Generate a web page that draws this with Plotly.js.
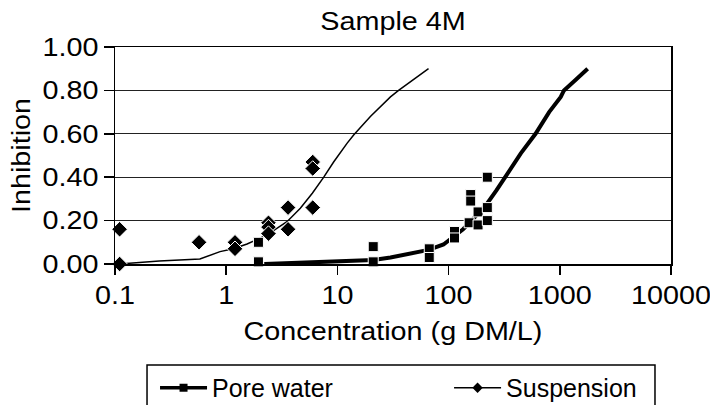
<!DOCTYPE html>
<html>
<head>
<meta charset="utf-8">
<script src="https://cdn.plot.ly/plotly-3.0.1.min.js"></script>
<style>html,body{margin:0;padding:0;background:#fff;}#chart{width:710px;height:405px;}</style>
</head>
<body>
<div id="chart"></div>
<script>
// Measured data points
var poreX = [1.95, 1.95, 21, 21, 67, 67, 113, 113, 153, 158, 158, 184, 184, 223, 223, 223];
var poreY = [0.10, 0.01, 0.08, 0.01, 0.07, 0.03, 0.15, 0.12, 0.19, 0.32, 0.29, 0.24, 0.18, 0.40, 0.26, 0.20];
var susX = [0.11, 0.11, 0.57, 1.2, 1.2, 2.4, 2.4, 2.4, 3.6, 3.6, 6.0, 6.0, 6.0];
var susY = [0.16, 0.00, 0.10, 0.10, 0.07, 0.19, 0.17, 0.14, 0.26, 0.16, 0.47, 0.44, 0.26];
// Fitted curves
var poreLineX = [2.2, 21, 30, 45, 66, 90, 111, 135, 158, 190, 223, 270, 335, 446, 605, 802, 1020, 1090, 1400, 1780];
var poreLineY = [0.00, 0.018, 0.03, 0.05, 0.065, 0.09, 0.126, 0.16, 0.195, 0.24, 0.28, 0.34, 0.41, 0.51, 0.60, 0.70, 0.77, 0.80, 0.85, 0.90];
var susLineX = [0.11, 0.25, 0.58, 0.88, 1.16, 1.54, 2.33, 3.52, 4.64, 5.95, 7.54, 9.25, 12.2, 14, 19.8, 30, 35.5, 45.5, 66];
var susLineY = [0.00, 0.014, 0.023, 0.057, 0.07, 0.092, 0.134, 0.195, 0.257, 0.326, 0.40, 0.47, 0.556, 0.594, 0.68, 0.77, 0.80, 0.84, 0.90];
// Axis ticks
var xTickVals = [0.1, 1, 10, 100, 1000, 10000];
var xTickText = ['0.1', '1', '10', '100', '1000', '10000'];
var yTickVals = [0, 0.2, 0.4, 0.6, 0.8, 1.0];
var yTickText = ['0.00', '0.20', '0.40', '0.60', '0.80', '1.00'];
var seriesNames = ['Pore water', 'Suspension'];

var FONT = 'Liberation Sans, Arial, Helvetica, sans-serif';
var FS = 25;
var NB = '\u00a0';
function pad(s, n) { var r = s; for (var i = 0; i < n; i++) r += NB; return r; }

var traces = [
  {x: poreLineX, y: poreLineY, mode: 'lines', line: {color: '#000', width: 4}, showlegend: false, cliponaxis: false, hoverinfo: 'skip'},
  {x: susLineX, y: susLineY, mode: 'lines', line: {color: '#000', width: 1.5}, showlegend: false, cliponaxis: false, hoverinfo: 'skip'},
  {x: poreX, y: poreY, mode: 'markers', marker: {symbol: 'square', size: 10, color: '#000', line: {color: '#fff', width: 1}}, showlegend: false, cliponaxis: false},
  {x: susX, y: susY, mode: 'markers', marker: {symbol: 'diamond', size: 12, color: '#000', line: {color: '#fff', width: 1}}, showlegend: false, cliponaxis: false},
  {x: [null], y: [null], name: pad(seriesNames[0], 16), mode: 'lines+markers', line: {color: '#000', width: 3.5}, marker: {symbol: 'square', size: 8, color: '#000'}},
  {x: [null], y: [null], name: seriesNames[1], mode: 'lines+markers', line: {color: '#000', width: 1.5}, marker: {symbol: 'diamond', size: 8, color: '#000'}}
];

var layout = {
  width: 710, height: 405,
  margin: {l: 115, r: 39, t: 47, b: 141, autoexpand: false},
  paper_bgcolor: '#fff', plot_bgcolor: '#fff',
  font: {family: FONT, color: '#000', size: FS},
  title: {text: 'Sample 4M', font: {family: FONT, size: FS, color: '#000'}, x: 0.5535, xanchor: 'center', y: 0.948, yanchor: 'middle'},
  xaxis: {
    type: 'log', range: [-1, 4],
    tickvals: xTickVals, ticktext: xTickText,
    ticks: 'outside', ticklen: 9, tickwidth: 1.5, tickcolor: '#000',
    showline: true, linecolor: '#000', linewidth: 1.5, mirror: true,
    showgrid: false, zeroline: false,
    tickfont: {family: FONT, size: FS, color: '#000'},
    title: {text: 'Concentration (g DM/L)', font: {family: FONT, size: FS, color: '#000'}, standoff: 14}
  },
  yaxis: {
    range: [0, 1],
    tickvals: yTickVals, ticktext: yTickText,
    ticks: 'outside', ticklen: 10, tickwidth: 1.5, tickcolor: '#000',
    showline: true, linecolor: '#000', linewidth: 1.5, mirror: true,
    showgrid: true, gridcolor: '#222', gridwidth: 1, zeroline: false,
    tickfont: {family: FONT, size: FS, color: '#000'},
    title: {text: 'Inhibition', font: {family: FONT, size: FS, color: '#000'}, standoff: 12}
  },
  legend: {
    orientation: 'h', x: 0.072, xanchor: 'left', y: -0.4654, yanchor: 'top',
    borderwidth: 0, bgcolor: 'rgba(0,0,0,0)',
    font: {family: FONT, size: FS, color: '#000'},
    itemwidth: 47
  },
  // legend frame (runs off the bottom edge as in the reference)
  shapes: [
    {type: 'rect', xref: 'paper', yref: 'paper', x0: 0.0576, x1: 0.9712, y0: -0.4654, y1: -0.70,
     line: {color: '#000', width: 1.5}, fillcolor: 'rgba(0,0,0,0)', layer: 'above'}
  ],
  showlegend: true
};

// widen glyphs along the reading direction to match the reference's wide lettering
function stretchText() {
  var s = 1.15;
  document.querySelectorAll('#chart svg text').forEach(function (el) {
    if (el.closest('.legend')) return;
    var t = el.getAttribute('transform') || '';
    if (t.indexOf('scale(') >= 0) return;
    var x = parseFloat(el.getAttribute('x')) || 0;
    var y = parseFloat(el.getAttribute('y')) || 0;
    el.setAttribute('transform', t + ' translate(' + x + ',' + y + ') scale(' + s + ',1) translate(' + (-x) + ',' + (-y) + ')');
  });
}

Plotly.newPlot('chart', traces, layout, {displayModeBar: false, staticPlot: true}).then(function (gd) {
  stretchText();
  gd.on('plotly_afterplot', stretchText);
});
</script>
</body>
</html>
